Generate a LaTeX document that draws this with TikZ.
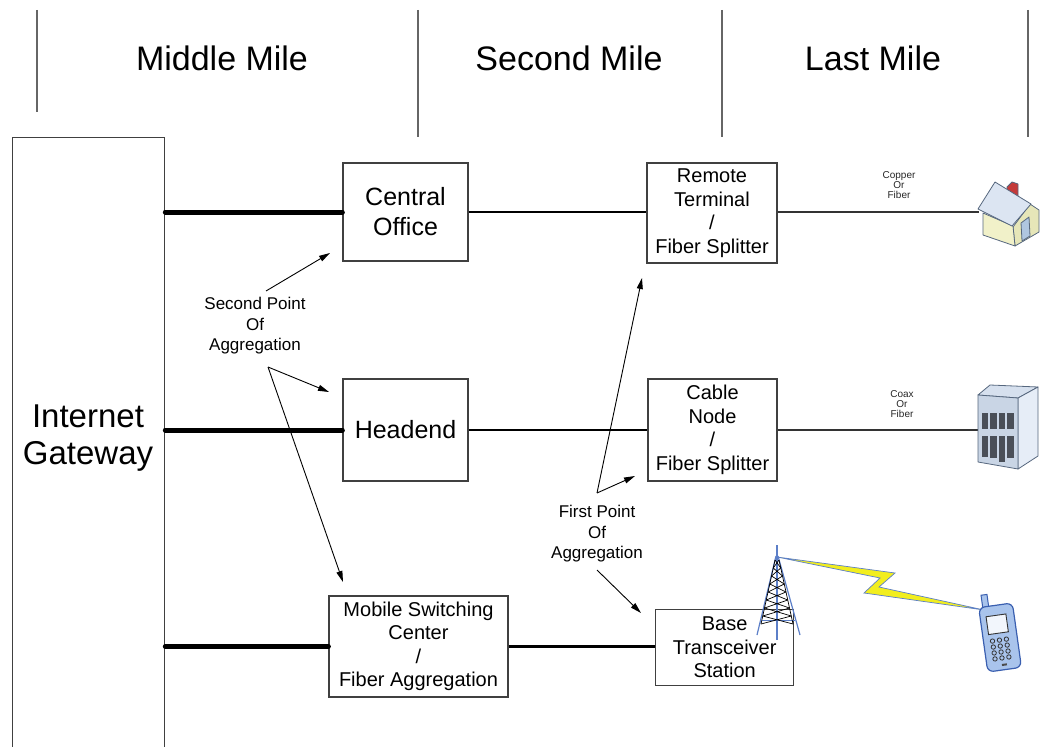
\documentclass[tikz,border=0pt]{standalone}
\usepackage{fontspec}
\setmainfont{Liberation Sans}
\usetikzlibrary{arrows.meta,calc}

\definecolor{towerblue}{HTML}{5C7FC8}
\definecolor{boltyellow}{HTML}{F2EE1E}
\definecolor{phonefill}{HTML}{A9C4EC}
\definecolor{phoneline}{HTML}{3A5FB0}
\definecolor{roofcol}{HTML}{DCE5F2}
\definecolor{wallcol}{HTML}{F1F1C9}
\definecolor{wallside}{HTML}{E6E6B8}
\definecolor{outlinecol}{HTML}{56677E}
\definecolor{chimneycol}{HTML}{C43A3A}
\definecolor{doorcol}{HTML}{AFC6E0}
\definecolor{bldfront}{HTML}{C9D5E5}
\definecolor{bldside}{HTML}{E6EDF7}
\definecolor{bldtop}{HTML}{D6E0EE}
\definecolor{windowcol}{HTML}{4A4F58}

\begin{document}
\begin{tikzpicture}[x=1pt,y=-1pt,
  box/.style={draw=black!75, line width=1.3pt, fill=white, align=center, inner sep=0pt},
  boxtext/.style={font=\fontsize{20}{23.5}\selectfont},
  bigtext/.style={font=\fontsize{25}{30}\selectfont},
  header/.style={font=\fontsize{34}{38}\selectfont, inner sep=0pt},
  note/.style={align=center, inner sep=0pt, font=\fontsize{17}{20.5}\selectfont},
  tiny/.style={align=center, inner sep=0pt, font=\fontsize{10}{9.7}\selectfont, text=black!85},
  trunk/.style={line width=5pt, line cap=round},
  feeder/.style={line width=2.5pt},
  drop/.style={line width=1.2pt, draw=black!80},
  pointer/.style={line width=0.9pt, -{Triangle[length=11pt,width=6pt]}},
  divider/.style={line width=1.3pt, draw=black!60},
]
\useasboundingbox (0,0) rectangle (1048,746);

% column dividers and headings
\draw[divider] (37,10) -- (37,112);
\draw[divider] (418,10) -- (418,137);
\draw[divider] (722,10) -- (722,137);
\draw[divider] (1028,10) -- (1028,137);
\node[header] (hmid)  at (222,58) {Middle Mile};
\node[header] (hsec)  at (569,58) {Second Mile};
\node[header] (hlast) at (873,58) {Last Mile};

% gateway column (runs off the bottom edge)
\node[box, minimum width=152pt, minimum height=640pt, anchor=north west] (gw) at (12,137) {};
\node[align=center, inner sep=0pt, font=\fontsize{33}{37}\selectfont] (gwtext) at (88,438) {Internet\\Gateway};

% aggregation boxes
\node[box, bigtext, minimum width=125pt, minimum height=98pt] (co) at (405.5,212) {Central\\Office};
\node[box, bigtext, minimum width=125pt, minimum height=102pt] (he) at (405.5,430) {Headend};
\node[box, boxtext, minimum width=179pt, minimum height=101pt] (msc) at (418.5,646.5) {Mobile Switching\\Center\\/\\Fiber Aggregation};

\node[box, boxtext, minimum width=130pt, minimum height=100pt] (rt) at (712,213) {Remote\\Terminal\\/\\Fiber Splitter};
\node[box, boxtext, minimum width=129pt, minimum height=102pt] (cn) at (712.5,430) {Cable\\Node\\/\\Fiber Splitter};
\node[box, boxtext, minimum width=138pt, minimum height=76pt, anchor=north west] (bts) at (655,609) {Base\\Transceiver\\Station};

% backbone links
\draw[trunk] (gw.east |- co.west) -- (co.west);
\draw[trunk] (gw.east |- he.west) -- (he.west);
\draw[trunk] (gw.east |- msc.west) -- (msc.west);
\draw[feeder] (co.east) -- (co.east -| rt.west);
\draw[feeder] (he.east) -- (he.east -| cn.west);
\draw[feeder] (msc.east) -- (msc.east -| bts.west);

% last mile drops
\coordinate (house) at (979,212);
\coordinate (bldg) at (979,430);
\draw[drop] (rt.east |- house) -- (house);
\draw[drop] (cn.east |- bldg) -- (bldg);
\node[tiny] (cof) at (899,185) {Copper\\Or\\Fiber};
\node[tiny] (xof) at (902,404) {Coax\\Or\\Fiber};

% second point of aggregation
\node[note] (spa) at (255,326) {Second Point\\Of\\Aggregation};
\coordinate (spaTop) at (266,291);
\coordinate (spaLow) at (268,367);
\coordinate (coTip) at (330,253);
\coordinate (heTip) at (329,392);
\coordinate (mscTip) at (343,582);
\draw[pointer] (spaTop) -- (coTip);
\draw[pointer] (spaLow) -- (heTip);
\draw[pointer] (spaLow) -- (mscTip);

% first point of aggregation
\node[note] (fpa) at (597,534) {First Point\\Of\\Aggregation};
\coordinate (fpaTop) at (597,493);
\coordinate (fpaLow) at (597,570);
\coordinate (rtTip) at (642,278);
\coordinate (cnTip) at (635,476);
\coordinate (btsTip) at (641,613);
\draw[pointer] (fpaTop) -- (rtTip);
\draw[pointer] (fpaTop) -- (cnTip);
\draw[pointer] (fpaLow) -- (btsTip);

% house
\begin{scope}[line width=0.8pt, draw=outlinecol, line join=round]
  \filldraw[fill=chimneycol] (1007,187) -- (1012,182) -- (1018,184) -- (1018,197) -- (1007,195) -- cycle;
  \filldraw[fill=wallside] (1013,227) -- (1030,204) -- (1039,210) -- (1039,232) -- (1015,246) -- cycle;
  \filldraw[fill=wallcol] (983,213) -- (1013,226) -- (1015,246) -- (983,235) -- cycle;
  \filldraw[fill=roofcol] (978,209) -- (995,182) -- (1031,204) -- (1012,226) -- cycle;
  \filldraw[fill=doorcol] (1021,223) -- (1029,217) -- (1030,236) -- (1022,241) -- cycle;
\end{scope}

% office building
\begin{scope}[line width=0.8pt, draw=outlinecol, line join=round]
  \filldraw[fill=bldtop] (978,395) -- (990,385) -- (1038,387) -- (1018,398) -- cycle;
  \filldraw[fill=bldside] (1018,398) -- (1038,387) -- (1038,456) -- (1018,469) -- cycle;
  \filldraw[fill=bldfront] (978,395) -- (1018,398) -- (1018,469) -- (978,462) -- cycle;
  \foreach \wx in {981.5,990,998.5,1007}{
    \fill[windowcol] (\wx,413) rectangle ++(6.5,16);
  }
  \foreach \wx/\wb in {981.5/457,990/458,998.5/462,1007/458}{
    \fill[windowcol] (\wx,436) rectangle (\wx+6.5,\wb);
  }
\end{scope}

% radio link
\filldraw[fill=boltyellow, draw=towerblue, line width=0.7pt, line join=miter]
  (777,557) -- (895,573) -- (879,587) -- (984,610) -- (864,593) -- (880,578) -- cycle;

% transmission tower
\begin{scope}
  \draw[towerblue, line width=1.2pt] (777,545) -- (777,640);
  \draw[towerblue, line width=1.2pt] (776,556) -- (757,635);
  \draw[towerblue, line width=1.2pt] (778,556) -- (800,635);
  \draw[towerblue, line width=0.8pt] (762,620) -- (795,620);
  \draw[black, line width=0.7pt] (775,560) -- (761,624) (779,560) -- (793,624);
  \foreach \i in {0,...,7}{
    \pgfmathsetmacro\ya{560+8*\i}
    \pgfmathsetmacro\yb{568+8*\i}
    \pgfmathsetmacro\ha{2+1.75*\i}
    \pgfmathsetmacro\hb{3.75+1.75*\i}
    \draw[black, line width=0.7pt] ({777-\ha},\ya) -- ({777+\hb},\yb) ({777+\ha},\ya) -- ({777-\hb},\yb);
  }
\end{scope}

% handset
\begin{scope}[shift={(1000,637)}, rotate=8]
  \filldraw[fill=phonefill, draw=phoneline, line width=1pt] (-13,-44) rectangle (-7,-28);
  \filldraw[fill=phonefill, draw=phoneline, line width=1.2pt, rounded corners=6pt] (-17,-32) rectangle (17,33);
  \filldraw[fill=white!85!phonefill, draw=black!80, line width=0.9pt] (-11,-22) rectangle (9,-4);
  \foreach \kx in {-8,-1,6}{
    \foreach \ky in {3,9,15,21}{
      \draw[black!80, line width=0.8pt] (\kx,\ky) circle (2.2pt);
    }
  }
  \fill[black!70] (-2,27) rectangle (3,29);
\end{scope}

\end{tikzpicture}
\end{document}
